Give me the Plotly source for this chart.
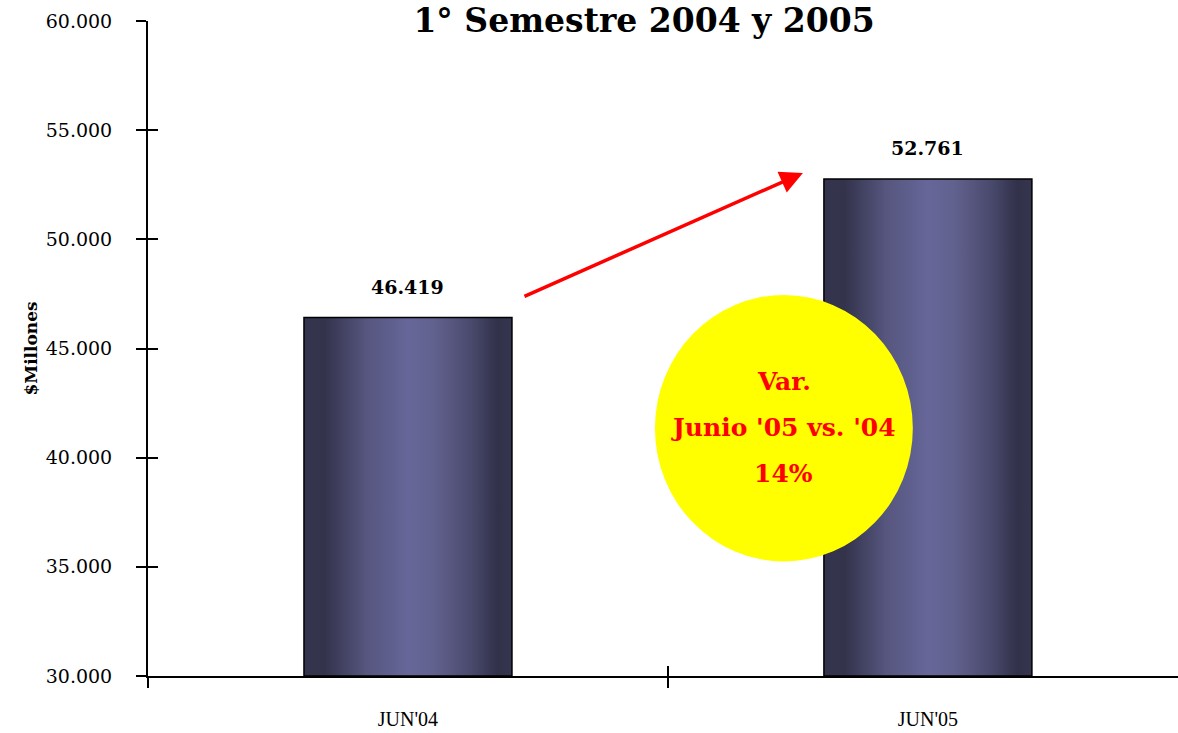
import plotly.graph_objects as go

categories = ["JUN'04", "JUN'05"]
values = [46419, 52761]
y_ticks = [30000, 35000, 40000, 45000, 50000, 55000, 60000]
title_text = "1° Semestre 2004 y 2005"
y_title = "$Millones"
bubble_lines = ["Var.", "Junio '05 vs. '04", "14%"]

Y_MIN, Y_MAX = 30000, 60000
BAR_HALF = 0.2
X_RANGE = [-0.5, 1.481]

grad = [
    [0.0, "#34344e"], [0.1, "#33334c"], [0.3, "#56567f"], [0.5, "#666699"],
    [0.62, "#62628f"], [0.8, "#4a4a6e"], [0.93, "#31314a"], [1.0, "#35354f"],
]

fig = go.Figure()
for i, (c, v) in enumerate(zip(categories, values)):
    fig.add_trace(go.Scatter(
        x=[i - BAR_HALF, i - BAR_HALF, i + BAR_HALF, i + BAR_HALF, i - BAR_HALF],
        y=[Y_MIN, v, v, Y_MIN, Y_MIN],
        mode="lines", fill="toself",
        fillgradient=dict(type="horizontal", colorscale=grad),
        line=dict(color="black", width=1.5),
        hoverinfo="skip", showlegend=False, name=c,
    ))

# value labels (on the overlay axes, which carry the inward tick marks)
fig.add_trace(go.Scatter(
    x=list(range(len(values))), y=values, xaxis="x2", yaxis="y2",
    mode="markers", marker=dict(size=1, color="rgba(0,0,0,0)"),
    hoverinfo="skip", showlegend=False,
))
for i, v in enumerate(values):
    fig.add_annotation(x=i, y=v, text=f"{v:,}".replace(",", "."), showarrow=False,
                       yanchor="bottom", yshift=18,
                       font=dict(family="DejaVu Serif", size=19, color="black", weight="bold"))

# arrow between the bars
fig.add_annotation(x=0.7596, y=53042, ax=0.2212, ay=47359, xref="x", yref="y",
                   axref="x", ayref="y", text="", showarrow=True,
                   arrowhead=2, arrowsize=1.3, arrowwidth=3.5, arrowcolor="#ff0000")

# yellow circle
fig.add_shape(type="circle", xref="x", yref="y", x0=0.475, x1=0.971, y0=35250, y1=47450,
              fillcolor="#ffff00", line=dict(width=0), layer="above")
for k, line in enumerate(bubble_lines):
    fig.add_annotation(x=0.723, y=41361, xref="x", yref="y", text=line, showarrow=False,
                       yshift=(1 - k) * 46,
                       font=dict(family="DejaVu Serif", size=25, color="#ff0000", weight="bold"))

fig.add_annotation(xref="paper", yref="paper", x=0, y=0.5, xshift=-130, text=y_title,
                   textangle=-90, showarrow=False,
                   font=dict(family="DejaVu Serif", size=17, color="black", weight="bold"))

fig.update_layout(
    width=1178, height=733,
    margin=dict(l=148, r=0, t=21, b=57, autoexpand=False),
    paper_bgcolor="white", plot_bgcolor="white",
    separators=",.",
    title=dict(text=title_text, x=644 / 1178, xanchor="center", y=1 - 20 / 733,
               yanchor="middle", yref="container",
               font=dict(family="DejaVu Serif", size=33, color="black", weight="bold")),
    xaxis=dict(range=X_RANGE, tickvals=[0, 1], ticktext=categories, ticks="",
               minor=dict(tickmode="array", tickvals=[-0.5, 0.5], ticks="outside",
                          ticklen=10, tickwidth=2, tickcolor="black", showgrid=False),
               showline=True, linecolor="black", linewidth=2, showgrid=False, zeroline=False,
               tickfont=dict(family="Liberation Serif", size=20, color="black"),
               ticklabelstandoff=24),
    xaxis2=dict(range=X_RANGE, overlaying="x", anchor="y2", side="bottom",
                tickvals=[-0.5, 0.5], ticks="inside", ticklen=10, tickwidth=2,
                tickcolor="black", showticklabels=False, showgrid=False, zeroline=False),
    yaxis=dict(range=[Y_MIN, Y_MAX], tickvals=y_ticks, tickformat=",d", ticks="outside",
               ticklen=10, tickwidth=2, tickcolor="black",
               showline=True, linecolor="black", linewidth=2, showgrid=False, zeroline=False,
               tickfont=dict(family="DejaVu Serif", size=19, color="black"),
               ticklabelstandoff=20),
    yaxis2=dict(range=[Y_MIN, Y_MAX], overlaying="y", anchor="x2", side="left",
                tickvals=y_ticks, ticks="inside", ticklen=10, tickwidth=2,
                tickcolor="black", showticklabels=False, showgrid=False, zeroline=False),
)

fig.write_html("out.html", config={"displayModeBar": False},
               post_script="document.body.style.margin='0';document.body.style.overflow='hidden';")
